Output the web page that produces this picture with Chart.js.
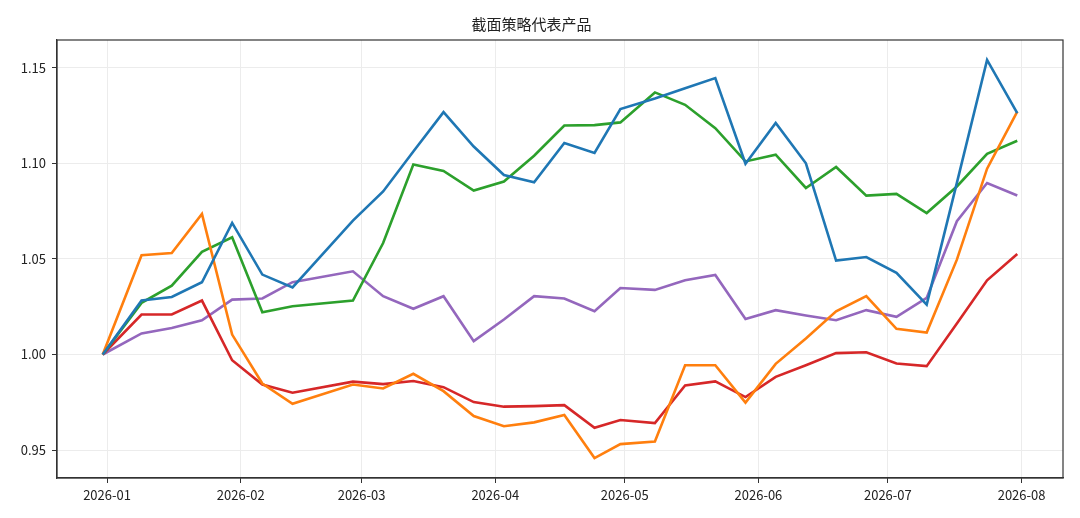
<!DOCTYPE html>
<html>
<head>
<meta charset="utf-8">
<script src="https://cdn.jsdelivr.net/npm/chart.js@4/dist/chart.umd.min.js"></script>
<style>
  html, body { margin: 0; padding: 0; background: #fff; }
  #wrap { width: 1080px; height: 518px; }
</style>
</head>
<body>
<div id="wrap"><canvas id="chart"></canvas></div>
<script>
// weekly dates (Fridays), first point is the start value
const dates = [
    '2025-12-31', '2026-01-09', '2026-01-16', '2026-01-23', '2026-01-30',
    '2026-02-06', '2026-02-13', '2026-02-27', '2026-03-06', '2026-03-13',
    '2026-03-20', '2026-03-27', '2026-04-03', '2026-04-10', '2026-04-17',
    '2026-04-24', '2026-04-30', '2026-05-08', '2026-05-15', '2026-05-22',
    '2026-05-29', '2026-06-05', '2026-06-12', '2026-06-19', '2026-06-26',
    '2026-07-03', '2026-07-10', '2026-07-17', '2026-07-24', '2026-07-31'
];

const blue = [1.0000, 1.0282, 1.0301, 1.0378, 1.0688, 1.0418, 1.0351, 1.0700, 1.0853, 1.1062,
              1.1268, 1.1088, 1.0939, 1.0901, 1.1106, 1.1054, 1.1284, 1.1339, 1.1393, 1.1446,
              1.0998, 1.1211, 1.1000, 1.0491, 1.0510, 1.0427, 1.0261, 1.0898, 1.1541, 1.1263];
const orange = [1.0000, 1.0519, 1.0531, 1.0735, 1.0104, 0.9848, 0.9742, 0.9843, 0.9822, 0.9899,
                0.9808, 0.9678, 0.9625, 0.9645, 0.9683, 0.9458, 0.9531, 0.9545, 0.9944, 0.9944,
                0.9748, 0.9951, 1.0084, 1.0226, 1.0305, 1.0134, 1.0115, 1.0496, 1.0972, 1.1271];
const green = [1.0000, 1.0270, 1.0360, 1.0537, 1.0613, 1.0221, 1.0252, 1.0282, 1.0583, 1.0994,
               1.0960, 1.0858, 1.0905, 1.1040, 1.1198, 1.1200, 1.1214, 1.1371, 1.1306, 1.1184,
               1.1010, 1.1045, 1.0871, 1.0981, 1.0831, 1.0840, 1.0740, 1.0879, 1.1050, 1.1118];
const red = [1.0000, 1.0209, 1.0209, 1.0282, 0.9970, 0.9843, 0.9800, 0.9858, 0.9845, 0.9861,
             0.9829, 0.9751, 0.9727, 0.9730, 0.9735, 0.9617, 0.9657, 0.9641, 0.9838, 0.9859,
             0.9777, 0.9883, 0.9944, 1.0007, 1.0012, 0.9953, 0.9939, 1.0162, 1.0388, 1.0526];
const purple = [1.0000, 1.0110, 1.0139, 1.0179, 1.0287, 1.0293, 1.0378, 1.0435, 1.0305, 1.0239,
                1.0305, 1.0070, 1.0183, 1.0305, 1.0293, 1.0226, 1.0348, 1.0338, 1.0388, 1.0416,
                1.0186, 1.0232, 1.0204, 1.0179, 1.0232, 1.0197, 1.0296, 1.0697, 1.0897, 1.0832];

const xTickLabels = ['2026-01', '2026-02', '2026-03', '2026-04', '2026-05', '2026-06', '2026-07', '2026-08'];
const yTickValues = [0.95, 1.00, 1.05, 1.10, 1.15];

// days since 2026-01-01
const base = Date.UTC(2026, 0, 1);
function dayNum(s) {
    const p = s.split('-').map(Number);
    return (Date.UTC(p[0], p[1] - 1, p[2] || 1) - base) / 86400000;
}
const xs = dates.map(dayNum);
const xTicks = xTickLabels.map(dayNum);

function pts(arr) {
    return arr.map((v, i) => ({ x: xs[i], y: v }));
}

// matplotlib-like 5% margins
const xPad = (xs[xs.length - 1] - xs[0]) * 0.05;
const allY = blue.concat(orange, green, red, purple);
const yMin = Math.min(...allY), yMax = Math.max(...allY);
const yPad = (yMax - yMin) * 0.05;

const font = "'Noto Sans CJK SC', 'DejaVu Sans', sans-serif";

const series = [
    { data: blue, color: '#1f77b4' },
    { data: orange, color: '#ff7f0e' },
    { data: green, color: '#2ca02c' },
    { data: red, color: '#d62728' },
    { data: purple, color: '#9467bd' },
];

const frame = {
    id: 'frame',
    afterDatasetsDraw(chart) {
        const a = chart.chartArea, c = chart.ctx;
        c.save();
        c.strokeStyle = '#333';
        c.lineWidth = 1.2;
        c.strokeRect(a.left, a.top, a.right - a.left, a.bottom - a.top);
        c.restore();
    }
};

new Chart(document.getElementById('chart'), {
    type: 'line',
    data: {
        datasets: series.map(s => ({
            data: pts(s.data),
            borderColor: s.color,
            backgroundColor: s.color,
            borderWidth: 2.6,
            pointRadius: 0,
            tension: 0,
        }))
    },
    options: {
        responsive: true,
        maintainAspectRatio: false,
        animation: false,
        layout: { padding: { left: 0, right: 17, top: 0, bottom: 0 } },
        plugins: {
            legend: { display: false },
            tooltip: { enabled: false },
            title: {
                display: true,
                text: '截面策略代表产品',
                color: '#222',
                font: { family: font, size: 15, weight: 'normal' },
                padding: { top: 15, bottom: 7 },
            },
        },
        scales: {
            x: {
                type: 'linear',
                min: xs[0] - xPad,
                max: xs[xs.length - 1] + xPad,
                afterBuildTicks(scale) {
                    scale.ticks = xTicks.map(v => ({ value: v }));
                },
                afterFit(scale) { scale.height = 40; },
                ticks: {
                    autoSkip: false,
                    maxRotation: 0,
                    color: '#222',
                    padding: 4,
                    font: { family: font, size: 13 },
                    callback: (v) => xTickLabels[xTicks.indexOf(v)] || '',
                },
                grid: { color: '#ececec', lineWidth: 1, tickLength: 5, tickColor: '#333' },
                border: { color: '#333', width: 1.2 },
            },
            y: {
                min: yMin - yPad,
                max: yMax + yPad,
                afterBuildTicks(scale) {
                    scale.ticks = yTickValues.map(v => ({ value: v }));
                },
                afterFit(scale) { scale.width = 57; },
                ticks: {
                    color: '#222',
                    padding: 6,
                    font: { family: font, size: 13 },
                    callback: (v) => Number(v).toFixed(2),
                },
                grid: { color: '#ececec', lineWidth: 1, tickLength: 5, tickColor: '#333' },
                border: { color: '#333', width: 1.2 },
            },
        },
    },
    plugins: [frame],
});
</script>
</body>
</html>
